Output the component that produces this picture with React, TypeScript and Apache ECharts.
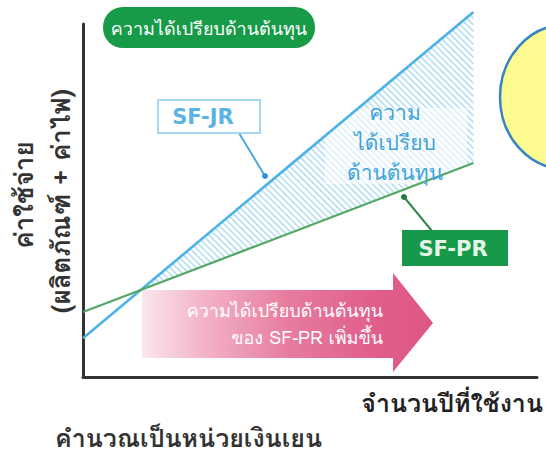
import React, { useEffect, useRef } from "react";
import * as echarts from "echarts";

// ---- data (axis units: x = years of use 0..100, y = cost 0..100) ----
const years = [0, 86];
const sfJrCost = [11, 103.4];
const sfPrCost = [18.4, 60.6];
const seriesNames = ["SF-JR", "SF-PR"];
const xAxisName = "จำนวนปีที่ใช้งาน";
const yAxisNameLines = ["ค่าใช้จ่าย", "(ผลิตภัณฑ์ + ค่าไฟ)"];
const advantageTitle = "ความได้เปรียบด้านต้นทุน";
const advantageAreaLines = ["ความ", "ได้เปรียบ", "ด้านต้นทุน"];
const arrowTextLines = ["ความได้เปรียบด้านต้นทุน", "ของ SF-PR เพิ่มขึ้น"];
const footnote = "คำนวณเป็นหน่วยเงินเยน";

const FONT = "Waree, Garuda, Loma, Tahoma, 'Noto Sans Thai', 'Noto Sans', sans-serif";
const LATIN = "'DejaVu Sans', Verdana, sans-serif";

export default function App() {
  const ref = useRef<HTMLDivElement>(null);
  useEffect(() => {
    if (!ref.current) return;
    const chart = echarts.init(ref.current, null, { renderer: "svg" });

    const hatchRender = (_params: any, api: any) => {
      const m1 = (sfJrCost[1] - sfJrCost[0]) / (years[1] - years[0]);
      const m2 = (sfPrCost[1] - sfPrCost[0]) / (years[1] - years[0]);
      const xi = years[0] + (sfPrCost[0] - sfJrCost[0]) / (m1 - m2);
      const yi = sfJrCost[0] + m1 * (xi - years[0]);
      const P = api.coord([xi, yi]);
      const B = api.coord([years[1], sfJrCost[1]]);
      const G = api.coord([years[1], sfPrCost[1]]);
      const poly = [P, B, G];
      const children: any[] = [];
      const cs = poly.map((p: number[]) => p[1] - p[0]);
      const cmin = Math.min(...cs);
      const cmax = Math.max(...cs);
      const step = 6.5;
      for (let c = Math.ceil(cmin / step) * step; c <= cmax; c += step) {
        const pts: number[][] = [];
        for (let i = 0; i < 3; i++) {
          const a = poly[i];
          const b = poly[(i + 1) % 3];
          const fa = a[1] - a[0] - c;
          const fb = b[1] - b[0] - c;
          if ((fa <= 0 && fb >= 0) || (fa >= 0 && fb <= 0)) {
            if (fa === fb) continue;
            const t = fa / (fa - fb);
            pts.push([a[0] + t * (b[0] - a[0]), a[1] + t * (b[1] - a[1])]);
          }
        }
        if (pts.length >= 2) {
          pts.sort((p, q) => p[0] - q[0]);
          const p0 = pts[0];
          const p1 = pts[pts.length - 1];
          children.push({
            type: "line",
            shape: { x1: p0[0], y1: p0[1], x2: p1[0], y2: p1[1] },
            style: { stroke: "#b5dff4", lineWidth: 1.6 },
          });
        }
      }
      return { type: "group", children };
    };

    const areaTextY = [112, 142, 172];
    const arrowTextY = [310, 337];
    const yTitleX = [23, 60];
    const yTitleY = [195, 201];

    chart.setOption({
      animation: false,
      backgroundColor: "#ffffff",
      grid: { left: 83, top: 24, right: 9, bottom: 82 },
      xAxis: {
        type: "value",
        min: 0,
        max: 100,
        axisLine: { show: true, lineStyle: { color: "#333333", width: 3 } },
        axisTick: { show: false },
        axisLabel: { show: false },
        splitLine: { show: false },
        name: xAxisName,
        nameLocation: "end",
        nameGap: 6,
        nameTextStyle: {
          align: "right",
          verticalAlign: "top",
          padding: [12, 0, 0, 0],
          fontFamily: FONT,
          fontSize: 25,
          fontWeight: "bold",
          color: "#222222",
          lineHeight: 28,
        },
      },
      yAxis: {
        type: "value",
        min: 0,
        max: 100,
        axisLine: { show: true, lineStyle: { color: "#333333", width: 3 } },
        axisTick: { show: false },
        axisLabel: { show: false },
        splitLine: { show: false },
      },
      series: [
        {
          type: "custom",
          name: "hatch",
          coordinateSystem: "cartesian2d",
          renderItem: hatchRender,
          data: [[0, 0]],
          silent: true,
          clip: false,
          z: 0,
        },
        {
          type: "line",
          name: seriesNames[0],
          data: years.map((x, i) => [x, sfJrCost[i]]),
          symbol: "none",
          clip: false,
          lineStyle: { color: "#4db2e6", width: 2.6 },
          z: 3,
        },
        {
          type: "line",
          name: seriesNames[1],
          data: years.map((x, i) => [x, sfPrCost[i]]),
          symbol: "none",
          clip: false,
          lineStyle: { color: "#52a862", width: 2.2 },
          z: 3,
        },
      ],
      graphic: [
        // y-axis title (rotated)
        ...yAxisNameLines.map((t, i) => ({
          type: "text",
          z: 6,
          x: yTitleX[i],
          y: yTitleY[i],
          rotation: Math.PI / 2,
          style: {
            text: t,
            fill: "#333333",
            font: `bold 26px ${FONT}`,
            align: "center",
            verticalAlign: "middle",
          },
        })),
        {
          type: "rect",
          z: 1,
          shape: { x: 325, y: 108, width: 142, height: 76 },
          style: { fill: "rgba(255,255,255,0.55)" },
        },
        ...advantageAreaLines.map((t, i) => ({
          type: "text",
          z: 5,
          x: 395,
          y: areaTextY[i],
          style: {
            text: t,
            fill: "#3fa3da",
            font: `21px ${FONT}`,
            align: "center",
            verticalAlign: "middle",
          },
        })),
        // green pill title
        {
          type: "rect",
          z: 5,
          shape: { x: 103, y: 7, width: 212, height: 41, r: 20 },
          style: { fill: "#179b49" },
        },
        {
          type: "text",
          z: 6,
          x: 209,
          y: 28,
          style: {
            text: advantageTitle,
            fill: "#ffffff",
            font: `18px ${FONT}`,
            align: "center",
            verticalAlign: "middle",
          },
        },
        // SF-JR label
        {
          type: "line",
          z: 5,
          shape: { x1: 239, y1: 133, x2: 265, y2: 176 },
          style: { stroke: "#4aa8de", lineWidth: 2 },
        },
        {
          type: "circle",
          z: 5,
          shape: { cx: 265, cy: 176, r: 3 },
          style: { fill: "#2f93d6" },
        },
        {
          type: "rect",
          z: 5,
          shape: { x: 158, y: 100, width: 102, height: 33 },
          style: { fill: "#ffffff", stroke: "#a6d7f2", lineWidth: 2 },
        },
        {
          type: "text",
          z: 6,
          x: 203,
          y: 117,
          style: {
            text: seriesNames[0],
            fill: "#5ab3e4",
            font: `bold 21px ${LATIN}`,
            align: "center",
            verticalAlign: "middle",
          },
        },
        // SF-PR label
        {
          type: "line",
          z: 5,
          shape: { x1: 432, y1: 231, x2: 404, y2: 197 },
          style: { stroke: "#2f8a4c", lineWidth: 2 },
        },
        {
          type: "circle",
          z: 5,
          shape: { cx: 404, cy: 197, r: 3 },
          style: { fill: "#1f7d3d" },
        },
        {
          type: "rect",
          z: 5,
          shape: { x: 402, y: 230, width: 106, height: 36 },
          style: { fill: "#169a4a" },
        },
        {
          type: "text",
          z: 6,
          x: 453,
          y: 249,
          style: {
            text: seriesNames[1],
            fill: "#e4f5e7",
            font: `bold 21px ${LATIN}`,
            align: "center",
            verticalAlign: "middle",
          },
        },
        // pink arrow
        {
          type: "polygon",
          z: 2,
          shape: {
            points: [
              [142, 290],
              [393, 290],
              [393, 273],
              [433, 323],
              [393, 372],
              [393, 358],
              [142, 358],
            ],
          },
          style: {
            fill: new echarts.graphic.LinearGradient(0, 0, 1, 0, [
              { offset: 0, color: "#fbe6ee" },
              { offset: 0.2, color: "#f3b6c9" },
              { offset: 0.5, color: "#e77c9e" },
              { offset: 0.8, color: "#e05e8b" },
              { offset: 1, color: "#de5685" },
            ]),
          },
        },
        ...arrowTextLines.map((t, i) => ({
          type: "text",
          z: 6,
          x: 383,
          y: arrowTextY[i],
          style: {
            text: t,
            fill: "#ffffff",
            font: `18px ${FONT}`,
            align: "right",
            verticalAlign: "middle",
          },
        })),
        // yellow ellipse
        {
          type: "ellipse",
          z: 5,
          shape: { cx: 565, cy: 97, rx: 65, ry: 72 },
          style: { fill: "#fdfb8f", stroke: "#3484c6", lineWidth: 2.5 },
        },
        // footnote
        {
          type: "text",
          z: 6,
          x: 55,
          y: 438,
          style: {
            text: footnote,
            fill: "#333333",
            font: `bold 25px ${FONT}`,
            align: "left",
            verticalAlign: "middle",
          },
        },
      ],
    });
    return () => chart.dispose();
  }, []);
  return (
    <div
      ref={ref}
      style={{ position: "fixed", left: 0, top: 0, width: 546, height: 459 }}
    />
  );
}
